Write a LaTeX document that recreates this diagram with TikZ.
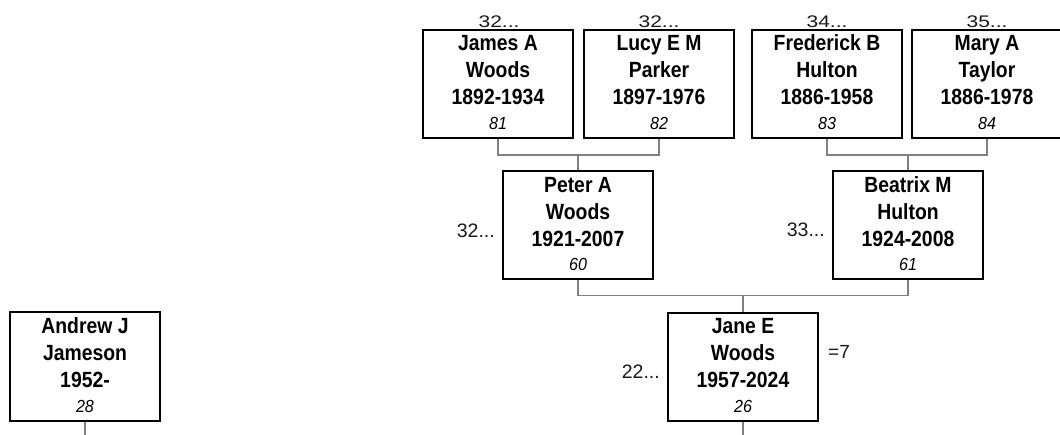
\documentclass[tikz,border=0pt]{standalone}
\usepackage{fontspec}
\setmainfont{Liberation Sans}
\newfontfamily\boxfont[FakeStretch=0.88]{Liberation Sans}
\newfontfamily\numfont[FakeStretch=0.92]{Liberation Sans}
\tikzset{
  personbox/.style={draw=black, line width=2pt, minimum width=150pt, minimum height=108pt, inner sep=0pt},
  nameline/.style={anchor=base, inner sep=0pt, font=\boxfont\bfseries\fontsize{22}{22}\selectfont},
  numline/.style={anchor=base, inner sep=0pt, font=\numfont\itshape\fontsize{17.5}{17.5}\selectfont},
  link/.style={draw=black!50, line width=1.8pt},
  sidelabel/.style={inner sep=0pt, font=\fontsize{19.5}{19.5}\selectfont, text=black!90},
  toplabel/.style={anchor=base, inner sep=0pt, font=\fontsize{21}{21}\selectfont, text=black!90},
}
\newcommand\person[7]{%
  \node[personbox] (#1) at (#2,#3) {};
  \node[nameline] (#1-a) at ([yshift=33pt]#1.center) {#4};
  \node[nameline] (#1-b) at ([yshift=6pt]#1.center) {#5};
  \node[nameline] (#1-c) at ([yshift=-21pt]#1.center) {#6};
  \node[numline] (#1-d) at ([yshift=-45.5pt]#1.center) {#7};
}
\begin{document}
\begin{tikzpicture}[x=1pt,y=-1pt]
\useasboundingbox (0,0) rectangle (1060,435);
\coordinate (bottom) at (0,437);

\person{james}{498}{84}{James A}{Woods}{1892-1934}{81}
\person{lucy}{659}{84}{Lucy E M}{Parker}{1897-1976}{82}
\person{fred}{827}{84}{Frederick B}{Hulton}{1886-1958}{83}
\person{mary}{987}{84}{Mary A}{Taylor}{1886-1978}{84}
\person{peter}{578}{225.5}{Peter A}{Woods}{1921-2007}{60}
\person{beatrix}{908}{225.5}{Beatrix M}{Hulton}{1924-2008}{61}
\person{jane}{743}{367}{Jane E}{Woods}{1957-2024}{26}
\person{andrew}{85}{366.5}{Andrew J}{Jameson}{1952-}{28}

% connectors
\coordinate (j1) at ([yshift=-16pt]james.south);
\draw[link] (james.south) -- (j1) -| (lucy.south);
\draw[link] (peter.north) -- (peter.north |- j1);
\coordinate (j2) at ([yshift=-16pt]fred.south);
\draw[link] (fred.south) -- (j2) -| (mary.south);
\draw[link] (beatrix.north) -- (beatrix.north |- j2);
\coordinate (j3) at ([yshift=-15pt]peter.south);
\draw[link] (peter.south) -- (j3) -| (beatrix.south);
\draw[link] (jane.north) -- (jane.north |- j3);
\draw[link] (jane.south) -- (jane.south |- bottom);
\draw[link] (andrew.south) -- (andrew.south |- bottom);

% labels
\node[toplabel] (james-t) at (499,28) {\scalebox{1}[0.8]{32...}};
\node[toplabel] (lucy-t) at (659,28) {\scalebox{1}[0.8]{32...}};
\node[toplabel] (fred-t) at (827,28) {\scalebox{1}[0.8]{34...}};
\node[toplabel] (mary-t) at (987,28) {\scalebox{1}[0.8]{35...}};
\node[sidelabel, anchor=base east] (peter-s) at (495,238) {32...};
\node[sidelabel, anchor=base east] (beatrix-s) at (825,237) {33...};
\node[sidelabel, anchor=base east] (jane-s) at (660,379) {22...};
\node[sidelabel, anchor=base west, font=\fontsize{19}{19}\selectfont] (jane-e) at (828,359) {=7};
\end{tikzpicture}
\end{document}
